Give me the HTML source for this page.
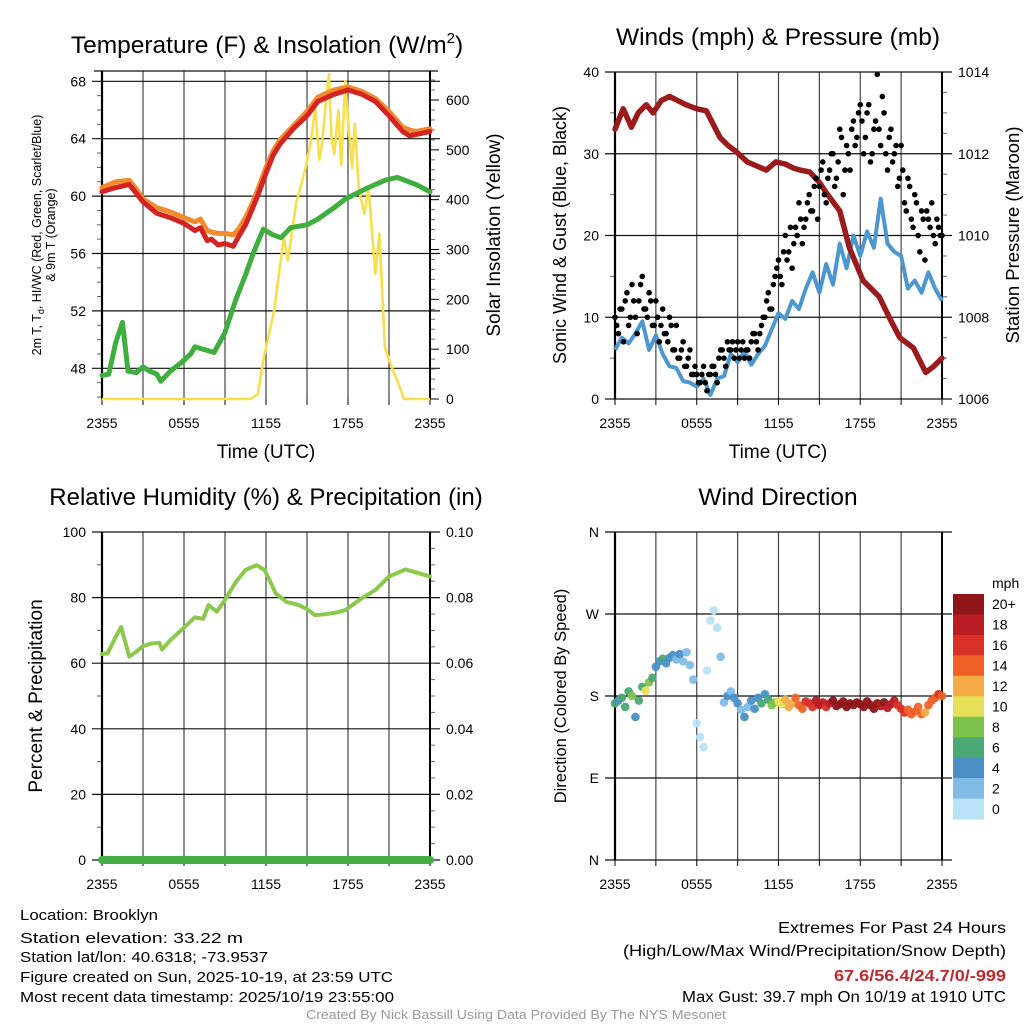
<!DOCTYPE html>
<html><head><meta charset="utf-8">
<style>
html,body{margin:0;padding:0;background:#fff;}
svg{display:block;font-family:"Liberation Sans",Arial,sans-serif;}
</style></head>
<body>
<svg id="chart" width="1024" height="1024" viewBox="0 0 1024 1024" xmlns="http://www.w3.org/2000/svg">
<rect x="0" y="0" width="1024" height="1024" fill="#fff"/>
<text x="267" y="53" font-size="24.5" text-anchor="middle">Temperature (F) &amp; Insolation (W/m<tspan dy="-10" font-size="15">2</tspan><tspan dy="10">)</tspan></text>
<text x="778" y="45" font-size="24.5" text-anchor="middle">Winds (mph) &amp; Pressure (mb)</text>
<text x="266" y="505" font-size="24" text-anchor="middle">Relative Humidity (%) &amp; Precipitation (in)</text>
<text x="778" y="505" font-size="24.5" text-anchor="middle">Wind Direction</text>
<text x="266" y="458" font-size="19" text-anchor="middle">Time (UTC)</text>
<text x="778" y="458" font-size="19" text-anchor="middle">Time (UTC)</text>
<text transform="translate(41,235) rotate(-90)" font-size="12.5" text-anchor="middle">2m T, T<tspan dy="3" font-size="9">d</tspan><tspan dy="-3">, HI/WC (Red, Green, Scarlet/Blue)</tspan></text>
<text transform="translate(55,235) rotate(-90)" font-size="12.5" text-anchor="middle">&amp; 9m T (Orange)</text>
<text transform="translate(500,235) rotate(-90)" font-size="19" text-anchor="middle">Solar Insolation (Yellow)</text>
<text transform="translate(566,235) rotate(-90)" font-size="18" text-anchor="middle">Sonic Wind &amp; Gust (Blue, Black)</text>
<text transform="translate(1019,235) rotate(-90)" font-size="18.5" text-anchor="middle">Station Pressure (Maroon)</text>
<text transform="translate(42,696) rotate(-90)" font-size="19" text-anchor="middle">Percent &amp; Precipitation</text>
<text transform="translate(566,696) rotate(-90)" font-size="16.5" text-anchor="middle">Direction (Colored By Speed)</text>
<g id="layers"></g>
<g font-size="15">
<text x="20" y="920" textLength="138" lengthAdjust="spacingAndGlyphs">Location: Brooklyn</text>
<text x="20" y="943" textLength="223" lengthAdjust="spacingAndGlyphs">Station elevation: 33.22 m</text>
<text x="20" y="962" textLength="248" lengthAdjust="spacingAndGlyphs">Station lat/lon: 40.6318; -73.9537</text>
<text x="20" y="982" textLength="373" lengthAdjust="spacingAndGlyphs">Figure created on Sun, 2025-10-19, at 23:59 UTC</text>
<text x="20" y="1002" textLength="374" lengthAdjust="spacingAndGlyphs">Most recent data timestamp: 2025/10/19 23:55:00</text>
</g>
<g font-size="15.5" text-anchor="end">
<text x="1006" y="933" textLength="228" lengthAdjust="spacingAndGlyphs">Extremes For Past 24 Hours</text>
<text x="1006" y="956" textLength="383" lengthAdjust="spacingAndGlyphs">(High/Low/Max Wind/Precipitation/Snow Depth)</text>
<text x="1006" y="981" fill="#c1272d" font-weight="bold" textLength="172" lengthAdjust="spacingAndGlyphs">67.6/56.4/24.7/0/-999</text>
<text x="1006" y="1002" textLength="324" lengthAdjust="spacingAndGlyphs">Max Gust: 39.7 mph On 10/19 at 1910 UTC</text>
</g>
<text x="516" y="1019" font-size="12.5" fill="#999" text-anchor="middle" textLength="420" lengthAdjust="spacingAndGlyphs">Created By Nick Bassill Using Data Provided By The NYS Mesonet</text>
</svg>
<script>
var timeTickLabels = ["2355","0555","1155","1755","2355"];
var tempTimes = [0,1,2,2.5,3,4,5,6,6.8,7.2,7.7,8,8.5,9,9.6,10,10.5,11,11.5,12,12.5,13,14,15,15.8,16.5,17,18,19,20,21,22,22.5,23,24];
var tempRed   = [60.3,60.6,60.8,60.2,59.6,58.8,58.5,58.1,57.6,57.8,56.9,57.0,56.6,56.7,56.5,57.2,58.0,59.1,60.3,61.6,62.8,63.6,64.7,65.6,66.6,66.9,67.1,67.4,67.1,66.6,65.6,64.5,64.2,64.3,64.5];
var tempOrange= [60.6,61.0,61.1,60.5,59.8,59.2,58.9,58.5,58.2,58.4,57.6,57.5,57.4,57.4,57.3,57.7,58.5,59.5,60.7,62.0,63.1,63.9,64.9,65.9,66.9,67.2,67.4,67.6,67.3,66.8,65.9,64.8,64.6,64.5,64.7];
var dewTimes = [0,0.5,1,1.5,1.9,2.5,3,3.5,4,4.3,5,5.8,6.5,6.8,7.5,8.2,9,9.8,10.5,11.1,11.8,12.5,13.1,13.8,15,15.8,17,17.8,19.5,20.7,21.6,23,24];
var dewValues = [47.5,47.6,49.8,51.2,47.8,47.7,48.1,47.8,47.6,47.1,47.8,48.4,49.0,49.5,49.3,49.1,50.5,52.8,54.5,56.1,57.7,57.3,57.1,57.8,58.0,58.4,59.2,59.8,60.6,61.1,61.3,60.8,60.3];
var solarTimes = [0,10.9,11.4,11.8,12.6,13.3,13.6,14.2,14.9,15.3,15.6,15.9,16.1,16.4,16.6,16.8,17.0,17.3,17.5,17.8,18.0,18.3,18.5,18.8,19.2,19.5,20.0,20.3,20.7,21.2,21.7,22.1,24];
var solarValues = [0,0,10,78,178,324,278,392,464,520,584,480,512,600,652,520,492,580,470,638,560,464,552,420,372,424,252,332,104,64,30,0,0];
var tempTicks = [48,52,56,60,64,68];
var solarTicks = [0,100,200,300,400,500,600];

var presTimes = [0,0.6,1.2,1.7,2.3,2.8,3.4,4.0,4.6,5.2,6.0,6.7,7.7,8.3,8.9,9.7,10.4,11.1,11.8,12.5,13.1,13.6,14.3,15.0,15.5,16.5,17.2,18.2,19.4,20.2,20.9,21.9,22.8,23.4,24];
var presValues = [1012.6,1013.1,1012.65,1013.0,1013.2,1013.0,1013.3,1013.4,1013.3,1013.2,1013.1,1013.05,1012.4,1012.2,1012.05,1011.8,1011.7,1011.6,1011.8,1011.75,1011.65,1011.6,1011.55,1011.3,1011.05,1010.6,1009.7,1008.9,1008.5,1007.95,1007.5,1007.25,1006.65,1006.8,1007.0];
var windValues = [6.0,7.5,6.8,8.0,9.5,6.0,7.8,5.5,4.0,3.8,2.2,2.0,1.5,2.5,0.5,2.5,2.8,5.5,4.5,5.8,4.2,5.5,6.5,8.5,10.5,9.8,12.0,11.0,13.5,15.5,13.0,16.5,14.0,19.0,16.0,20.0,17.5,20.5,18.5,24.5,19.0,18.0,17.5,13.5,14.5,13.0,15.5,13.5,12.0];
var gustA = [10,8,11,12,9,14,10,12,15,11,13,9, 12,7,11,8,10,6,9,5,7,4,6,3, 3,2,4,1,3,4,2,6,5,7,6,5, 7,6,5,6,7,8,6,9,10,13,11,15, 17,14,20,18,16,21,24,19,22,25,23,27, 26,29,24,28,30,27,33,25,31,28,34,32, 36,30,35,29,33,39.7,31,35,28,33,30,26, 31,24,27,22,25,20,23,17,22,24,19,21, 20];
var gustB = [9,11,7,13,10,12,8,14,11,10,12,9, 10,9,8,7,9,6,5,6,4,5,3,4, 2,3,2,3,4,3,5,6,4,6,7,6, 5,7,6,5,8,7,8,10,12,11,14,16, 15,18,17,21,19,20,22,21,24,23,26,22, 28,25,27,30,26,29,32,28,30,33,31,35, 34,32,36,30,34,33,37,30,32,29,31,27, 28,23,26,21,24,18,22,23,21,20,22,20];
var windTicks = [0,10,20,30,40];
var presTicks = [1006,1008,1010,1012,1014];

var rhTimes = [0,0.4,1.0,1.4,2.0,2.5,3.0,3.6,4.2,4.4,5.0,5.8,6.3,6.8,7.4,7.8,8.4,9.0,9.8,10.5,11.3,11.9,12.3,12.7,13.5,14.4,15.0,15.6,16.6,17.2,17.8,19.0,20.0,21.0,22.2,23.2,24];
var rhValues = [62.8,63.0,68.0,71.0,62.0,63.5,65.2,66.0,66.2,64.2,67.0,70.1,72.0,74.0,73.5,77.7,75.7,79.3,84.8,88.4,89.9,88.4,85.0,81.3,78.7,77.7,76.5,74.6,75.1,75.5,76.2,79.8,82.3,86.4,88.6,87.4,86.4];
var precipTimes = [0,24];
var precipValues = [0,0];
var rhTicks = [0,20,40,60,80,100];
var precipTicks = ["0.00","0.02","0.04","0.06","0.08","0.10"];

var dirValues = [172,175,178,168,185,180,157,175,190,186,195,200, 212,218,221,216,222,225,220,226,218,228,214,198, 150,135,124,208,263,274,255,223,173,180,185,178, 172,165,157,168,175,166,178,172,182,176,170,173, 174,171,176,168,172,178,170,166,174,172,168,175, 170,173,168,172,175,169,171,174,168,172,170,173, 171,168,174,170,166,172,169,173,167,171,175,170, 166,162,165,160,163,168,160,162,170,175,178,182, 180];
var dirSpeeds = [6,5,7,6,7,8,5,6,7,10,8,6, 5,4,6,5,4,4,3,4,3,3,2,3, 1,0,1,1,0,1,1,2,3,4,3,4, 4,3,4,3,4,5,4,6,5,7,8,9, 10,11,12,13,12,14,15,14,16,17,16,18, 18,19,17,19,20,21,20,22,21,20,22,21, 21,20,22,21,20,21,19,20,18,19,18,17, 17,16,15,15,14,14,15,13,14,14,15,16, 14];
var dirTickLabels = ["N","E","S","W","N"];
var dirTicks = [0,90,180,270,360];
var speedBinLabels = ["0","2","4","6","8","10","12","14","16","18","20+"];
var speedColors = ["#b8e2f7","#80bce6","#4a90c6","#4aa872","#7dc24b","#e6e158","#f6ab47","#f06128","#d93127","#b91c24","#8f1519"];

var NS = "http://www.w3.org/2000/svg";
var root = document.getElementById("layers");
function mk(tag, attrs, parent){
  var e = document.createElementNS(NS, tag);
  for (var k in attrs) e.setAttribute(k, attrs[k]);
  (parent || root).appendChild(e);
  return e;
}
function txt(s, attrs, parent){ var e = mk("text", attrs, parent); e.textContent = s; return e; }
function linScale(d0,d1,r0,r1){ return function(v){ return r0 + (v-d0)*(r1-r0)/(d1-d0); }; }
function pathFrom(xs, ys, sx, sy){
  var d = "";
  for (var i=0;i<xs.length;i++){ d += (i?"L":"M") + sx(xs[i]).toFixed(1) + "," + sy(ys[i]).toFixed(1); }
  return d;
}
function range(n, step){ var a=[]; for (var i=0;i<n;i++) a.push(i*step); return a; }

function frame(P, name){
  var g = mk("g", {});
  
  
  for (var h=0; h<=24; h+=3){
    var x = P.sx(h);
    mk("line",{x1:x,y1:P.top,x2:x,y2:P.bottom,stroke:"#444","stroke-width":1.2},g);
    mk("line",{x1:x,y1:P.bottom,x2:x,y2:P.bottom+6,stroke:"#000","stroke-width":1},g);
  }
  for (var i=0;i<timeTickLabels.length;i++){
    var t = txt(timeTickLabels[i],{x:P.sx(i*6),y:P.bottom+29,"font-size":14,"text-anchor":"middle"},g);
    
    
  }
  return g;
}
function hgrid(g, P, y, labelL, labelR){
  mk("line",{x1:P.left-10,y1:y,x2:P.right+10,y2:y,stroke:"#111","stroke-width":1.2},g);
  if (labelL!==null){ txt(labelL,{x:P.left-16,y:y+5,"font-size":14,"text-anchor":"end"},g); }
  if (labelR!==null){ txt(labelR,{x:P.right+16,y:y+5,"font-size":14,"text-anchor":"start"},g); }
}
function minorTicks(g, x, ys, dir){
  for (var i=0;i<ys.length;i++) mk("line",{x1:x,y1:ys[i],x2:x+dir*5,y2:ys[i],stroke:"#666","stroke-width":1},g);
}
function border(g,P){
  mk("line",{x1:P.left,y1:P.top,x2:P.left,y2:P.bottom,stroke:"#000","stroke-width":2.2},g);
  mk("line",{x1:P.right,y1:P.top,x2:P.right,y2:P.bottom,stroke:"#000","stroke-width":2},g);
}

var P1 = {left:102,right:430,top:71,bottom:399};
P1.sx = linScale(0,24,P1.left,P1.right);
var tY = linScale(48,68,368.3,81.3);
var sY = linScale(0,600,399,100);
var g1 = frame(P1,"temperature");
for (var i=0;i<tempTicks.length;i++) hgrid(g1,P1,tY(tempTicks[i]),String(tempTicks[i]),null);
mk("line",{x1:P1.left-8,y1:P1.top,x2:P1.right+8,y2:P1.top,stroke:"#111","stroke-width":1.2},g1);
var mt=[]; for (var v=46; v<=68; v+=1) if (v%4) mt.push(tY(v)); minorTicks(g1,P1.left,mt,-1);
for (var i=0;i<solarTicks.length;i++){ var yy=sY(solarTicks[i]); mk("line",{x1:P1.right,y1:yy,x2:P1.right+9,y2:yy,stroke:"#000"},g1); txt(String(solarTicks[i]),{x:P1.right+16,y:yy+5,"font-size":14},g1); }
var ms=[]; for (var w=20; w<=640; w+=20) if (w%100) ms.push(sY(w)); minorTicks(g1,P1.right,ms,1);
border(g1,P1);
var s;
s = mk("path",{d:pathFrom(solarTimes,solarValues,P1.sx,sY),fill:"none",stroke:"#f7df4a","stroke-width":2.6,"stroke-linejoin":"round"});


s = mk("path",{d:pathFrom(dewTimes,dewValues,P1.sx,tY),fill:"none",stroke:"#3fae3f","stroke-width":5,"stroke-linejoin":"round","stroke-linecap":"round"});


s = mk("path",{d:pathFrom(tempTimes,tempOrange,P1.sx,tY),fill:"none",stroke:"#f28a2e","stroke-width":5,"stroke-linejoin":"round","stroke-linecap":"round"});


s = mk("path",{d:pathFrom(tempTimes,tempRed,P1.sx,tY),fill:"none",stroke:"#d42323","stroke-width":5,"stroke-linejoin":"round","stroke-linecap":"round"});



var P2 = {left:615,right:942,top:72,bottom:399};
P2.sx = linScale(0,24,P2.left,P2.right);
var wY = linScale(0,40,399,72);
var pY = linScale(1006,1014,399,72);
var g2 = frame(P2,"wind");
for (var i=0;i<windTicks.length;i++) hgrid(g2,P2,wY(windTicks[i]),String(windTicks[i]),String(presTicks[i]));
var mw=[]; for (var v=5; v<40; v+=10) mw.push(wY(v)); minorTicks(g2,P2.left,mw,-1);
var mp=[]; for (var v=1006.5; v<1014; v+=0.5) if (v%2) mp.push(pY(v)); minorTicks(g2,P2.right,mp,1);
border(g2,P2);
var windTimes = range(windValues.length,0.5);
s = mk("path",{d:pathFrom(windTimes,windValues,P2.sx,wY),fill:"none",stroke:"#4d97d1","stroke-width":4,"stroke-linejoin":"round"});


s = mk("path",{d:pathFrom(presTimes,presValues,P2.sx,pY),fill:"none",stroke:"#9b1a1c","stroke-width":5.5,"stroke-linejoin":"round","stroke-linecap":"round"});


var gg = mk("g",{fill:"#000"});


for (var i=0;i<gustA.length;i++){
  var c = mk("circle",{cx:P2.sx(i*0.25),cy:wY(gustA[i]),r:2.8},gg);
  
  
}
for (var i=0;i<gustB.length;i++){
  var c = mk("circle",{cx:P2.sx(0.125+i*0.25),cy:wY(gustB[i]),r:2.8},gg);
  
  
}

var P3 = {left:102,right:430,top:532,bottom:860};
P3.sx = linScale(0,24,P3.left,P3.right);
var rY = linScale(0,100,860,532);
var prY = linScale(0,0.10,860,532);
var g3 = frame(P3,"humidity");
for (var i=0;i<rhTicks.length;i++) hgrid(g3,P3,rY(rhTicks[i]),String(rhTicks[i]),precipTicks[i]);
var mr=[]; for (var v=10; v<100; v+=20) mr.push(rY(v)); minorTicks(g3,P3.left,mr,-1);
var mq=[]; for (var v=0.005; v<0.1; v+=0.005){ if (Math.abs((v*100)%2)>0.01) mq.push(prY(v)); } minorTicks(g3,P3.right,mq,1);
border(g3,P3);
s = mk("path",{d:pathFrom(rhTimes,rhValues,P3.sx,rY),fill:"none",stroke:"#8cc84b","stroke-width":4,"stroke-linejoin":"round","stroke-linecap":"round"});


s = mk("path",{d:pathFrom(precipTimes,precipValues,P3.sx,prY),fill:"none",stroke:"#45ad45","stroke-width":8,"stroke-linecap":"round"});



var P4 = {left:615,right:942,top:532,bottom:860};
P4.sx = linScale(0,24,P4.left,P4.right);
var dY = linScale(0,360,860,532);
var g4 = frame(P4,"direction");
for (var i=0;i<dirTicks.length;i++) hgrid(g4,P4,dY(dirTicks[i]),dirTickLabels[i],null);
border(g4,P4);
var gd = mk("g",{});


for (var i=0;i<dirValues.length;i++){
  var bin = Math.min(10, Math.floor(dirSpeeds[i]/2));
  var c = mk("circle",{cx:P4.sx(i*0.25),cy:dY(dirValues[i]),r:4.3,fill:speedColors[bin],"fill-opacity":0.95},gd);
  
  
}
var cb = mk("g",{});


txt("mph",{x:992,y:588,"font-size":14},cb);
var bh = 225/speedColors.length;
for (var i=0;i<speedColors.length;i++){
  var k = speedColors.length-1-i;
  var y0 = 594 + i*bh;
  mk("rect",{x:953,y:y0,width:31,height:bh+0.5,fill:speedColors[k]},cb);
  var lt = txt(speedBinLabels[k],{x:992,y:y0+bh/2+5,"font-size":14},cb);
  
  
}
</script>
</body></html>
